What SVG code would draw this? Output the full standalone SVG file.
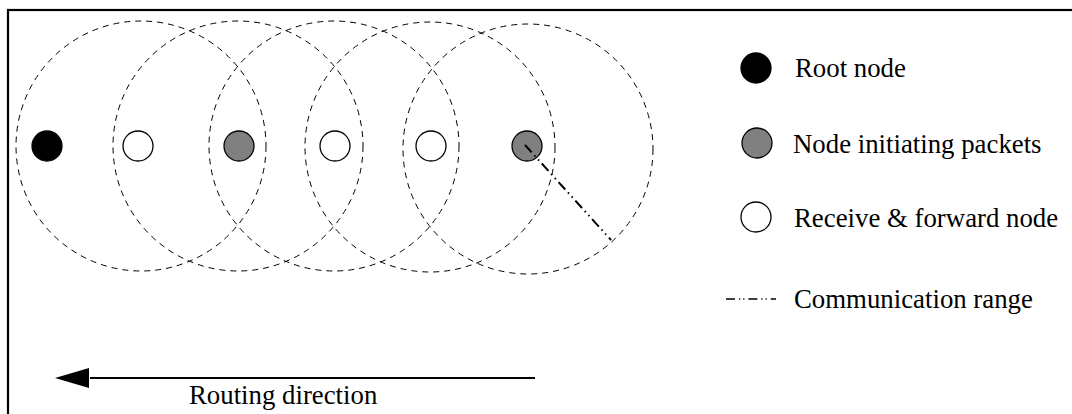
<svg xmlns="http://www.w3.org/2000/svg" width="1072" height="414" viewBox="0 0 1072 414">
<defs>
<style>
.range{fill:none;stroke:#000;stroke-width:1;stroke-dasharray:6 5}
.node{stroke:#000;stroke-width:1.3}
.root{fill:#000}
.init{fill:#808080}
.fwd{fill:#fff}
.lbl{font-family:"Liberation Serif","Times New Roman",serif;font-size:26.8px;fill:#000}
.comm{stroke:#000;fill:none;stroke-dasharray:10 4 1.5 4 1.5 4}
</style>
</defs>
<rect x="0" y="0" width="1072" height="414" fill="#fff"/>
<rect x="8" y="10" width="1090" height="430" fill="none" stroke="#000" stroke-width="2.2"/>
<g id="ranges">
<circle class="range" cx="141" cy="146" r="125"/>
<circle class="range" cx="238" cy="146" r="125"/>
<circle class="range" cx="334" cy="146" r="125"/>
<circle class="range" cx="430" cy="147" r="125"/>
<circle class="range" cx="528" cy="149" r="125"/>
</g>
<g id="n1"><circle class="node root" cx="47" cy="146" r="15"/></g>
<g id="n2"><circle class="node fwd" cx="138" cy="146" r="15"/></g>
<g id="n3"><circle class="node init" cx="239" cy="146" r="15"/></g>
<g id="n4"><circle class="node fwd" cx="335" cy="146" r="15"/></g>
<g id="n5"><circle class="node fwd" cx="431" cy="146" r="15"/></g>
<g id="n6"><circle class="node init" cx="527" cy="146" r="15"/></g>
<g id="connectors">
<line class="comm" x1="525" y1="145" x2="611" y2="240" stroke-width="2"/>
<line x1="535" y1="378" x2="90" y2="378" stroke="#000" stroke-width="2"/>
<path d="M55,378 L89,368 L89,388 Z" fill="#000"/>
</g>
<text class="lbl" x="189" y="404">Routing direction</text>
<g id="legend">
<circle class="node root" cx="756" cy="68" r="15"/>
<text class="lbl" x="795" y="77">Root node</text>
<circle class="node init" cx="757" cy="143" r="15"/>
<text class="lbl" x="793" y="153">Node initiating packets</text>
<circle class="node fwd" cx="756" cy="217" r="15"/>
<text class="lbl" x="794" y="227">Receive &amp; forward node</text>
<line class="comm" x1="726" y1="299" x2="776" y2="299" stroke-width="1.5" style="stroke-dasharray:9 4 1.2 3 1.2 4"/>
<text class="lbl" x="794" y="308">Communication range</text>
</g>
</svg>
